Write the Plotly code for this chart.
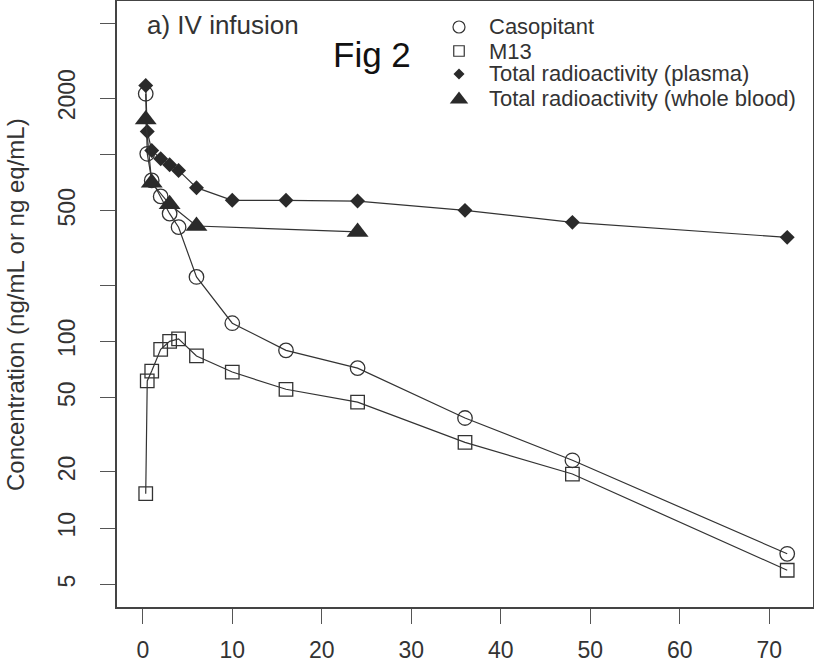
import math
import plotly.graph_objects as go

# ---------------- data ----------------
time_h = [0.33, 0.5, 1, 2, 3, 4, 6, 10, 16, 24, 36, 48, 72]
casopitant = [2112, 1008, 726, 596, 482, 408, 221, 125, 89.5, 71.9, 38.9, 23.1, 7.3]
m13 = [15.3, 61.4, 69.3, 90.6, 100, 103, 83.5, 68.5, 55.4, 47.3, 28.8, 19.5, 5.96]
tra_plasma = [2339, 1327, 1050, 948, 881, 821, 664, 568, 568, 563, 502, 433, 360]

time_blood = [0.33, 1, 3, 6, 24]
tra_blood = [1538, 705, 541, 414, 385]

series_names = ["Casopitant", "M13", "Total radioactivity (plasma)",
                "Total radioactivity (whole blood)"]

x_ticks = [0, 10, 20, 30, 40, 50, 60, 70]
y_ticks = [5, 10, 20, 50, 100, 200, 500, 1000, 2000, 5000]
y_tick_text = ["5", "10", "20", "50", "100", "", "500", "", "2000", ""]

# ---------------- style / layout constants ----------------
W, H = 814, 664
ML, MR, MT, MB = 117, 1, 1, 57
PW, PH = W - ML - MR, H - MT - MB
INK = "#333333"
FILL = "#2a2a2a"
FONT = "Liberation Sans, Arial, Helvetica, sans-serif"


def px_x(px):
    return (px - ML) / PW


def px_y(py):
    return (H - MB - py) / PH


fig = go.Figure()

line_style = dict(color=INK, width=1.2)

fig.add_trace(go.Scatter(
    x=time_h, y=casopitant, mode="lines+markers", name=series_names[0],
    line=line_style,
    marker=dict(symbol="circle-open", size=14.5, color=INK, line=dict(width=1.3, color=INK))))
fig.add_trace(go.Scatter(
    x=time_h, y=m13, mode="lines+markers", name=series_names[1],
    line=line_style,
    marker=dict(symbol="square-open", size=13.5, color=INK, line=dict(width=1.3, color=INK))))
fig.add_trace(go.Scatter(
    x=time_h, y=tra_plasma, mode="lines+markers", name=series_names[2],
    line=line_style,
    marker=dict(symbol="diamond", size=11.5, color=FILL, line=dict(width=0))))
fig.add_trace(go.Scatter(
    x=time_blood, y=tra_blood, mode="lines+markers", name=series_names[3],
    line=line_style,
    marker=dict(symbol="triangle-up", size=19, color=FILL, line=dict(width=0))))

# ---------------- legend (drawn on an overlay axis) ----------------
leg_sym_x = px_x(459)
leg_txt_x = px_x(487)
leg_rows_px = [27, 51, 74, 98]
leg_symbols = [("circle-open", 12, INK), ("square-open", 10.5, INK),
               ("diamond", 8.5, FILL), ("triangle-up", 16, FILL)]
for (sym, sz, col), row, name in zip(leg_symbols, leg_rows_px, series_names):
    fig.add_trace(go.Scatter(
        x=[leg_sym_x], y=[px_y(row + (1.6 if sym == "triangle-up" else 0))],
        xaxis="x2", yaxis="y2", mode="markers", showlegend=False, hoverinfo="skip",
        cliponaxis=False,
        marker=dict(symbol=sym, size=sz, color=col,
                    line=dict(width=1.2 if "open" in sym else 0, color=col))))
    fig.add_annotation(x=leg_txt_x, y=px_y(row), xref="paper", yref="paper",
                       text=name, showarrow=False, xanchor="left", yanchor="middle",
                       font=dict(size=22, color=INK, family=FONT))

# ---------------- texts ----------------
fig.add_annotation(x=px_x(223), y=px_y(25), xref="paper", yref="paper",
                   text="a) IV infusion", showarrow=False, xanchor="center",
                   yanchor="middle", font=dict(size=26, color=INK, family=FONT))
fig.add_annotation(x=px_x(372), y=px_y(55), xref="paper", yref="paper",
                   text="Fig 2", showarrow=False, xanchor="center",
                   yanchor="middle", font=dict(size=35, color="#111111", family=FONT))
fig.add_annotation(x=px_x(15), y=px_y(305), xref="paper", yref="paper",
                   text="Concentration (ng/mL or ng eq/mL)", showarrow=False,
                   textangle=-90, xanchor="center", yanchor="middle",
                   font=dict(size=24, color=INK, family=FONT))

axis_common = dict(showline=True, linecolor="#444444", linewidth=1.6, mirror=True,
                   ticks="outside", ticklen=15, tickwidth=1.3, tickcolor="#555555",
                   showgrid=False, zeroline=False, automargin=False,
                   tickfont=dict(size=23, color=INK, family=FONT))

fig.update_layout(
    width=W, height=H,
    margin=dict(l=ML, r=MR, t=MT, b=MB, autoexpand=False),
    plot_bgcolor="white", paper_bgcolor="white",
    showlegend=False,
    font=dict(family=FONT, color=INK),
    xaxis=dict(range=[-2.88, 74.88], tickvals=x_ticks,
               ticktext=[str(v) for v in x_ticks], ticklabelstandoff=7, **axis_common),
    yaxis=dict(type="log", range=[math.log10(3.79), math.log10(6620)],
               tickvals=y_ticks, ticktext=y_tick_text, tickangle=-90,
               ticklabelstandoff=16, **axis_common),
    xaxis2=dict(overlaying="x", range=[0, 1], visible=False, fixedrange=True,
                automargin=False),
    yaxis2=dict(overlaying="y", range=[0, 1], visible=False, fixedrange=True,
                automargin=False),
)

fig.write_html(
    "out.html",
    config={"displayModeBar": False},
    post_script="document.body.style.margin='0';document.body.style.padding='0';"
                "document.body.style.overflow='hidden';",
)
